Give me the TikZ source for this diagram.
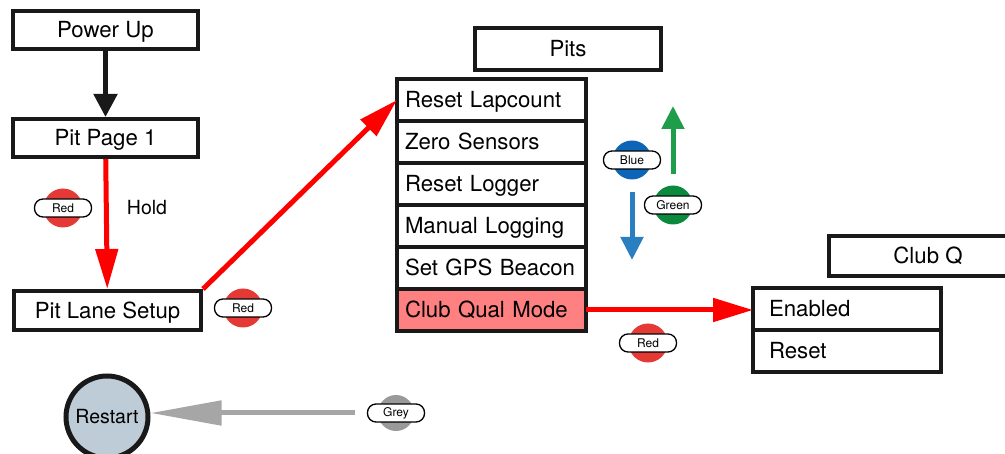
\documentclass[tikz,border=0pt]{standalone}
\usepackage{fontspec}
\setmainfont{TeX Gyre Heros}
\usetikzlibrary{positioning,arrows.meta}
\definecolor{rojo}{HTML}{E53935}
\definecolor{azul}{HTML}{0D65B8}
\definecolor{verde}{HTML}{0B8A3E}
\definecolor{flazul}{HTML}{2A7FC0}
\definecolor{flverde}{HTML}{1E9E4A}
\definecolor{gris}{HTML}{999999}
\definecolor{flgris}{HTML}{A6A6A6}
\definecolor{salmon}{HTML}{FF8080}
\definecolor{pizarra}{HTML}{BDCCD6}
\begin{document}
\begin{tikzpicture}[x=1pt,y=-1pt,
    caja/.style={draw=black!90,line width=4pt,fill=white,inner sep=0pt,
      text height=16.5pt,text depth=0.6pt,font=\fontsize{22.2}{26}\selectfont},
    fila/.style={caja,outer sep=0pt,minimum height=42pt,align=left},
    boton/.style={circle,fill=#1,minimum size=39pt,inner sep=0pt},
    etiqueta/.style={draw,line width=1.3pt,fill=white,rounded corners=8.5pt,
      minimum width=57pt,minimum height=18pt,inner sep=0pt,font=\fontsize{12}{14}\selectfont},
    flecha/.style={line width=5pt,-{Triangle[length=#1]}}]
    \useasboundingbox (0,0) rectangle (1005,454);
    % Cajas de la izquierda
    \node[caja,minimum width=185pt,minimum height=38pt] (power) at (105.5,30) {Power Up};
    \node[caja,minimum width=185pt,minimum height=38pt] (pitpage) at (105.5,138) {Pit Page 1};
    \node[caja,minimum width=187pt,minimum height=39pt] (pitlane) at (107.5,310.5) {Pit Lane Setup};
    \node[font=\fontsize{19.5}{24}\selectfont] (hold) at (147,208) {Hold};
    % Menu Pits
    \node[caja,minimum width=186pt,minimum height=42pt] (pits) at (568,49) {Pits};
    \node[fila,text width=173pt,inner xsep=8pt] (f1) at (491.5,100) {Reset Lapcount};
    \node[fila,text width=173pt,inner xsep=8pt,below=0pt of f1] (f2) {Zero Sensors};
    \node[fila,text width=173pt,inner xsep=8pt,below=0pt of f2] (f3) {Reset Logger};
    \node[fila,text width=173pt,inner xsep=8pt,below=0pt of f3] (f4) {Manual Logging};
    \node[fila,text width=173pt,inner xsep=8pt,below=0pt of f4] (f5) {Set GPS Beacon};
    \node[fila,text width=173pt,inner xsep=8pt,below=0pt of f5,fill=salmon] (f6) {Club Qual Mode};
    % Menu Club Q
    \node[caja,minimum width=198pt,minimum height=40pt] (clubq) at (928,256) {Club Q};
    \node[fila,text width=156pt,inner xsep=16pt] (e1) at (847,309) {Enabled};
    \node[fila,text width=156pt,inner xsep=16pt,below=0pt of e1] (e2) {Reset};
    % Reinicio
    \node[circle,draw=black!90,line width=5pt,fill=pizarra,minimum size=82pt,inner sep=0pt,
      font=\fontsize{19.5}{24}\selectfont] (restart) at (107,417) {Restart};
    % Flechas
    \draw[flecha={23pt},-{Triangle[length=23pt,width=23pt]},black!90] (power) -- (pitpage);
    \draw[flecha={40pt},-{Triangle[length=40pt,width=22pt]},red] (pitpage) -- (pitlane);
    \draw[flecha={40pt},-{Triangle[length=40pt,width=22pt]},red] (pitlane.north east) -- (f1.west);
    \draw[flecha={40pt},-{Triangle[length=40pt,width=23pt]},red] (f6.east) -- (f6.east -| e1.west);
    \coordinate (g0) at (673,174);
    \coordinate (g1) at (673,106);
    \draw[flecha={23pt},-{Triangle[length=23pt,width=22pt]},flverde] (g0) -- (g1);
    \coordinate (a0) at (632,192);
    \coordinate (a1) at (632,260);
    \draw[flecha={23pt},-{Triangle[length=23pt,width=22pt]},flazul] (a0) -- (a1);
    \coordinate (gr0) at (355,413);
    \draw[flecha={71pt},-{Triangle[length=71pt,width=24pt]},flgris] (gr0) -- (gr0 -| restart.east);
    % Botones
    \node[boton=rojo] (b1) at (63,208) {};
    \node[etiqueta] (b1t) at (b1) {Red};
    \node[boton=rojo] (b2) at (243,308) {};
    \node[etiqueta] (b2t) at (b2) {Red};
    \node[boton=azul] (b3) at (632,160) {};
    \node[etiqueta] (b3t) at (b3) {Blue};
    \node[boton=verde] (b4) at (673,205) {};
    \node[etiqueta] (b4t) at (b4) {Green};
    \node[boton=rojo] (b5) at (648,343) {};
    \node[etiqueta] (b5t) at (b5) {Red};
    \node[boton=gris,minimum size=36pt] (b6) at (396,413) {};
    \node[etiqueta] (b6t) at (b6) {Grey};
\end{tikzpicture}
\end{document}
